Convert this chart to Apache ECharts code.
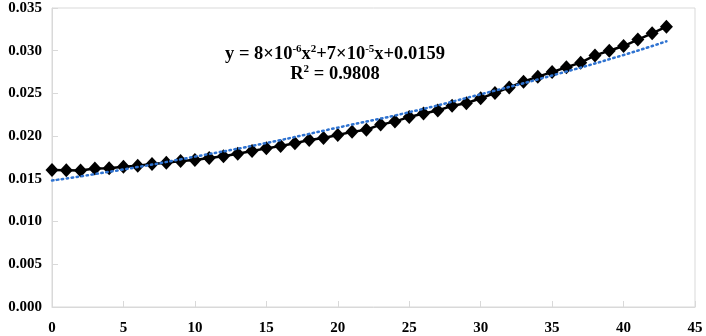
<!DOCTYPE html>
<html>
<head>
<meta charset="utf-8">
<script src="https://cdn.jsdelivr.net/npm/echarts@6/dist/echarts.min.js"></script>
<style>html,body{margin:0;padding:0;background:#fff}#c{width:706px;height:336px}</style>
</head>
<body>
<div id="c"></div>
<script>
var xValues = [0,1,2,3,4,5,6,7,8,9,10,11,12,13,14,15,16,17,18,19,20,21,22,23,24,25,26,27,28,29,30,31,32,33,34,35,36,37,38,39,40,41,42,43];
var yValues = [0.01604,0.01602,0.01598,0.01620,0.01625,0.01643,0.01654,0.01674,0.01689,0.01709,0.01721,0.01745,0.01765,0.01795,0.01825,0.01857,0.01885,0.01916,0.01955,0.01978,0.02013,0.02050,0.02075,0.02135,0.02170,0.02225,0.02265,0.02300,0.02355,0.02385,0.02443,0.02505,0.02570,0.02637,0.02696,0.02750,0.02806,0.02860,0.02945,0.03000,0.03055,0.03130,0.03204,0.03281];
var trendX = [0,5,10,15,20,25,30,35,40,43];
var trendY = [0.0148,0.0161,0.0176,0.0192,0.0210,0.0228,0.0249,0.0271,0.0295,0.0311];
var xTicks = {min:0, max:45, interval:5};
var yTicks = {min:0, max:0.035, interval:0.005};

var mainData = xValues.map(function(x,i){return [x,yValues[i]];});
var trendData = trendX.map(function(x,i){return [x,trendY[i]];});

var chart = echarts.init(document.getElementById('c'));
var labelFont = {color:'#000', fontFamily:'Liberation Serif', fontWeight:'bold', fontSize:15};
chart.setOption({
  animation:false,
  grid:{left:52,right:11,top:8,bottom:29,show:true,borderColor:'#d9d9d9',borderWidth:1},
  xAxis:{type:'value',min:xTicks.min,max:xTicks.max,interval:xTicks.interval,
    axisLine:{lineStyle:{color:'#d9d9d9'}},
    axisTick:{inside:true,length:6,lineStyle:{color:'#d9d9d9'}},
    splitLine:{show:false},
    axisLabel:Object.assign({margin:14},labelFont)},
  yAxis:{type:'value',min:yTicks.min,max:yTicks.max,interval:yTicks.interval,
    axisLine:{show:true,lineStyle:{color:'#d9d9d9'}},
    axisTick:{show:true,inside:true,length:6,lineStyle:{color:'#d9d9d9'}},
    splitLine:{show:false},
    axisLabel:Object.assign({margin:10,formatter:function(v){return v.toFixed(3);}},labelFont)},
  series:[
    {type:'line',data:mainData,symbol:'diamond',symbolSize:[13,14],
     itemStyle:{color:'#000'},lineStyle:{color:'#000',width:2.5},z:2},
    {type:'line',data:trendData,smooth:true,symbol:'none',
     lineStyle:{color:'#2f73d1',width:2.5,type:[1.5,3.5],cap:'round'},z:3}
  ],
  graphic:[{
    type:'text',x:335,y:44,z:10,
    style:{
      rich:{
        n:{fontFamily:'Liberation Serif',fontWeight:'bold',fontSize:18.5,fill:'#000',lineHeight:20},
        s:{fontFamily:'Liberation Serif',fontWeight:'bold',fontSize:11,fill:'#000',verticalAlign:'top',lineHeight:20,padding:[0,0,7,0]}
      },
      text:'{n|y = 8×10}{s|-6}{n|x}{s|2}{n|+7×10}{s|-5}{n|x+0.0159}\n{n|R}{s|2}{n| = 0.9808}',
      align:'center'
    }
  }]
});
</script>
</body>
</html>
